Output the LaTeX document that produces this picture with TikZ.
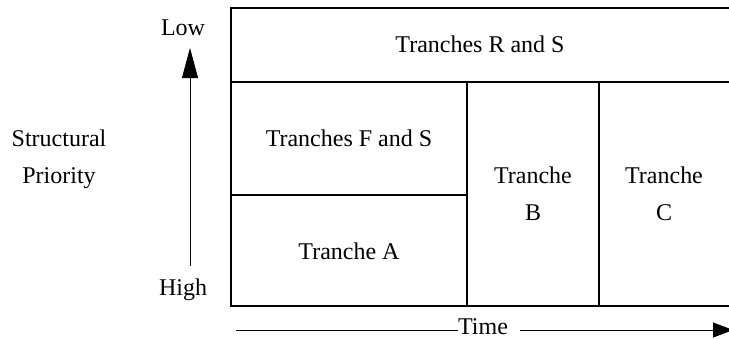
\documentclass[tikz,border=0pt]{standalone}
\usepackage{fontspec}
\setmainfont{Liberation Serif}
\usetikzlibrary{arrows.meta}
\begin{document}
\begin{tikzpicture}[x=1pt,y=-1pt,
  boxline/.style={line width=1.5pt, line cap=rect},
  axisline/.style={line width=0.8pt},
  lbl/.style={inner sep=0pt, font=\fontsize{24}{37}\selectfont, align=center, anchor=base},
  bigtip/.style={-{Triangle[length=30pt,width=16pt]}},
  smalltip/.style={-{Triangle[length=20pt,width=15pt]}}]
\useasboundingbox (0,0) rectangle (729,338);
% frame coordinates
\coordinate (tl) at (231,8);
\coordinate (tr) at (731,8);
\coordinate (ml) at (231,82);
\coordinate (mr) at (731,82);
\coordinate (bl) at (231,306);
\coordinate (br) at (731,306);
\coordinate (b1t) at (467,82);
\coordinate (b1b) at (467,306);
\coordinate (b2t) at (599,82);
\coordinate (b2b) at (599,306);
\coordinate (fl) at (231,195);
\coordinate (fr) at (467,195);
\draw[boxline] (tr) -- (tl) -- (bl) -- (br);
\draw[boxline] (ml) -- (mr);
\draw[boxline] (b1t) -- (b1b);
\draw[boxline] (b2t) -- (b2b);
\draw[boxline] (fl) -- (fr);
% labels
\node[lbl] (rs) at (480,52) {Tranches R and S};
\node[lbl] (fs) at (349,146) {Tranches F and S};
\node[lbl] (ta) at (349,259) {Tranche A};
\node[lbl] (tb) at (533,220) {Tranche\\B};
\node[lbl] (tc) at (664,220) {Tranche\\C};
\node[lbl] (low) at (183,35) {Low};
\node[lbl] (high) at (183,295) {High};
\node[lbl] (sp) at (59,183) {Structural\\Priority};
\node[lbl] (time) at (483,334) {Time};
% priority arrow
\coordinate (pa0) at (190,266);
\coordinate (pa1) at (190,48);
\draw[axisline,bigtip] (pa0) -- (pa1);
% time arrow
\coordinate (t0) at (236,330);
\coordinate (t1) at (733,330);
\draw[axisline] (t0) -- (t0 -| time.west);
\draw[axisline,smalltip] ([xshift=12pt]t0 -| time.east) -- (t1);
\end{tikzpicture}
\end{document}
